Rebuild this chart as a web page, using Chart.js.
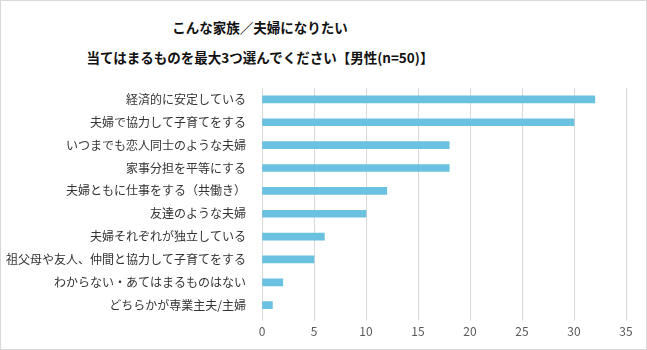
<!DOCTYPE html>
<html>
<head>
<meta charset="utf-8">
<script src="https://cdn.jsdelivr.net/npm/chart.js@4/dist/chart.umd.min.js"></script>
<style>
  html, body { margin: 0; padding: 0; background: #fff; }
  #wrap { width: 647px; height: 350px; box-sizing: border-box; border: 1px solid #d9d9d9; position: relative; }
  #title { position: absolute; left: 0; top: 11px; width: 518px; text-align: center;
           font-family: 'Noto Sans CJK JP', 'Noto Sans', sans-serif; font-size: 13.5px; font-weight: bold;
           line-height: 30px; color: #111111; }
  #chart { position: absolute; left: 0; top: 0; }
</style>
</head>
<body>
<div id="wrap"><div id="title"></div><canvas id="chart" width="645" height="348"></canvas></div>
<script>
var titleLines = ["こんな家族／夫婦になりたい", "当てはまるものを最大3つ選んでください【男性(n=50)】"];
var categories = [
    "経済的に安定している",
    "夫婦で協力して子育てをする",
    "いつまでも恋人同士のような夫婦",
    "家事分担を平等にする",
    "夫婦ともに仕事をする（共働き）",
    "友達のような夫婦",
    "夫婦それぞれが独立している",
    "祖父母や友人、仲間と協力して子育てをする",
    "わからない・あてはまるものはない",
    "どちらかが専業主夫/主婦"
];
var counts = [32, 30, 18, 18, 12, 10, 6, 5, 2, 1];

var font = "'Noto Sans CJK JP', 'Noto Sans', sans-serif";

document.getElementById("title").innerHTML = titleLines.join("<br>");

var ctx = document.getElementById("chart").getContext("2d");
var myChart = new Chart(ctx, {
    type: "bar",
    data: {
        labels: categories,
        datasets: [{
            data: counts,
            backgroundColor: "#6bc1e0",
            barThickness: 7
        }]
    },
    options: {
        indexAxis: "y",
        responsive: false,
        animation: false,
        layout: { padding: { top: 87, right: 20, bottom: 6, left: 0 } },
        plugins: {
            legend: { display: false },
            tooltip: { enabled: false }
        },
        scales: {
            x: {
                min: 0,
                max: 35,
                ticks: { stepSize: 5, color: "#595959", font: { family: font, size: 12 }, padding: 4 },
                grid: { color: "#d9d9d9", tickLength: 4 },
                border: { display: false }
            },
            y: {
                ticks: { color: "#333333", font: { family: font, size: 12 }, padding: 8 },
                grid: { display: false },
                border: { display: false },
                // fixed label column so the plot starts where the reference does
                afterFit: function (axis) { axis.width = 261; }
            }
        }
    }
});
</script>
</body>
</html>
